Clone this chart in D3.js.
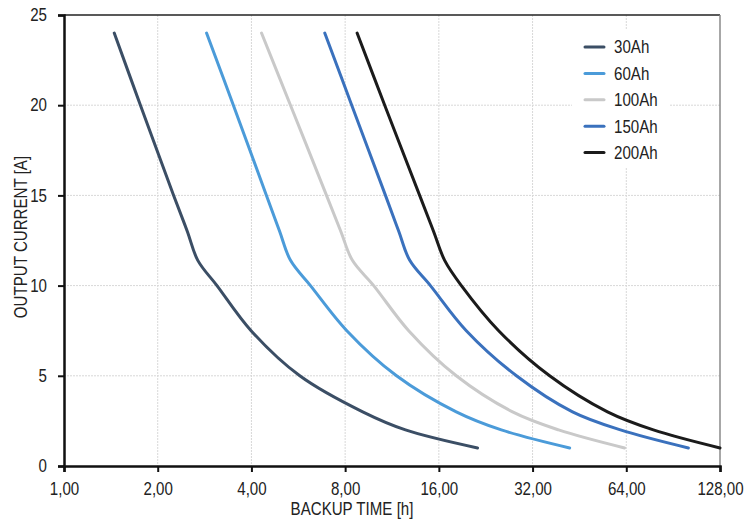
<!DOCTYPE html>
<html>
<head>
<meta charset="utf-8">
<script src="https://cdnjs.cloudflare.com/ajax/libs/d3/7.8.5/d3.min.js"></script>
<style>
  body { margin: 0; background: #fff; }
  text { font-family: "Liberation Sans", Arial, sans-serif; fill: #222; }
</style>
</head>
<body>
<svg width="748" height="520"></svg>
<script>
// backup time [h] vs output current [A]
seriesNames = ["30Ah", "60Ah", "100Ah", "150Ah", "200Ah"];
seriesColors = ["#3b4e65", "#4b9bd9", "#c9c9c9", "#3a71bd", "#1b1b1b"];
currents = [24, 20, 15, 13, 11.4, 10, 7.5, 5, 3, 2, 1];
hours30 = [1.45, 1.76, 2.25, 2.49, 2.69, 3.10, 3.99, 5.72, 9.11, 12.5, 21.3];
hours60 = [2.87, 3.50, 4.47, 4.93, 5.34, 6.19, 8.1, 11.7, 18.2, 25.4, 42.1];
hours100 = [4.31, 5.34, 6.97, 7.75, 8.44, 9.88, 12.8, 18.2, 27.6, 38.8, 63.2];
hours150 = [6.88, 8.40, 10.78, 11.9, 12.9, 15.03, 19.6, 28.4, 43, 61.3, 101.3];
hours200 = [8.74, 10.72, 13.88, 15.39, 16.7, 18.9, 24.9, 36.3, 55.7, 78.2, 128];
xTicks = [1, 2, 4, 8, 16, 32, 64, 128];
yTicks = [0, 5, 10, 15, 20, 25];

allHours = [hours30, hours60, hours100, hours150, hours200];
narrow = 0.84; // squeeze text horizontally, the original uses a condensed face

svg = d3.select("svg");
margin = { left: 64, top: 15, right: 28, bottom: 54 };
width = +svg.attr("width") - margin.left - margin.right;
height = +svg.attr("height") - margin.top - margin.bottom;

x = d3.scaleLog().base(2).domain([1, 128]).range([0, width]);
y = d3.scaleLinear().domain([0, 25]).range([height, 0]);

g = svg.append("g").attr("transform", "translate(" + [margin.left, margin.top] + ")");

// grid
g.append("g")
  .selectAll("line")
  .data(xTicks.slice(1, -1))
  .join("line")
  .attr("x1", d => x(d)).attr("x2", d => x(d))
  .attr("y1", 0).attr("y2", height)
  .attr("stroke", "#d8d8d8").attr("stroke-width", 1).attr("stroke-dasharray", "2,1");
g.append("g")
  .selectAll("line")
  .data(yTicks.slice(1, -1))
  .join("line")
  .attr("x1", 0).attr("x2", width)
  .attr("y1", d => y(d)).attr("y2", d => y(d))
  .attr("stroke", "#d8d8d8").attr("stroke-width", 1).attr("stroke-dasharray", "2,1");

// frame top / right
g.append("line").attr("x1", 0).attr("x2", width).attr("y1", 0).attr("y2", 0)
  .attr("stroke", "#222").attr("stroke-width", 1.5);
g.append("line").attr("x1", width).attr("x2", width).attr("y1", 0).attr("y2", height)
  .attr("stroke", "#8a8a8a").attr("stroke-width", 1.5);

// curves
line = d3.line()
  .x(d => x(d[0]))
  .y(d => y(d[1]))
  .curve(d3.curveCatmullRom.alpha(0.5));

allHours.forEach(function(hrs, i) {
  pts = hrs.map((h, j) => [h, currents[j]]);
  g.append("path")
    .attr("d", line(pts))
    .attr("fill", "none")
    .attr("stroke", seriesColors[i])
    .attr("stroke-width", 3)
    .attr("stroke-linecap", "round");
});

// axes
xAxis = g.append("g")
  .attr("transform", "translate(0," + height + ")")
  .call(d3.axisBottom(x).tickValues(xTicks).tickFormat(d => d3.format(".2f")(d).replace(".", ",")).tickSizeOuter(0).tickSize(6));
yAxis = g.append("g")
  .call(d3.axisLeft(y).tickValues(yTicks).tickSizeOuter(0).tickSize(6));

[xAxis, yAxis].forEach(function(a) {
  a.select(".domain").attr("stroke", "#111").attr("stroke-width", 2.5);
  a.selectAll(".tick line").attr("stroke", "#111").attr("stroke-width", 2);
  a.selectAll(".tick text").attr("font-size", 18).attr("fill", "#222")
    .style("font-family", "'Liberation Sans', Arial, sans-serif")
    .attr("transform", "scale(" + narrow + ",1)");
});
xAxis.selectAll(".tick text").attr("dy", "1.11em");
yAxis.selectAll(".tick text").attr("x", -17 / narrow);

// axis titles
svg.append("text")
  .attr("transform", "translate(352,515) scale(" + narrow + ",1)")
  .attr("text-anchor", "middle")
  .attr("font-size", 18)
  .text("BACKUP TIME [h]");
svg.append("text")
  .attr("transform", "translate(27,237) rotate(-90) scale(" + narrow + ",1)")
  .attr("text-anchor", "middle")
  .attr("font-size", 18)
  .text("OUTPUT CURRENT [A]");

// legend
svg.append("rect")
  .attr("x", 572).attr("y", 30).attr("width", 98).attr("height", 138)
  .attr("fill", "#fff");
leg = svg.append("g").attr("transform", "translate(584,47)");
seriesNames.forEach(function(name, i) {
  row = leg.append("g").attr("transform", "translate(0," + i * 26.4 + ")");
  row.append("line").attr("x1", 1).attr("x2", 20).attr("y1", 0).attr("y2", 0)
    .attr("stroke", seriesColors[i]).attr("stroke-width", 3).attr("stroke-linecap", "round");
  row.append("text")
    .attr("transform", "translate(30,0) scale(" + narrow + ",1)")
    .attr("dy", "0.35em")
    .attr("font-size", 18).text(name);
});
</script>
</body>
</html>
